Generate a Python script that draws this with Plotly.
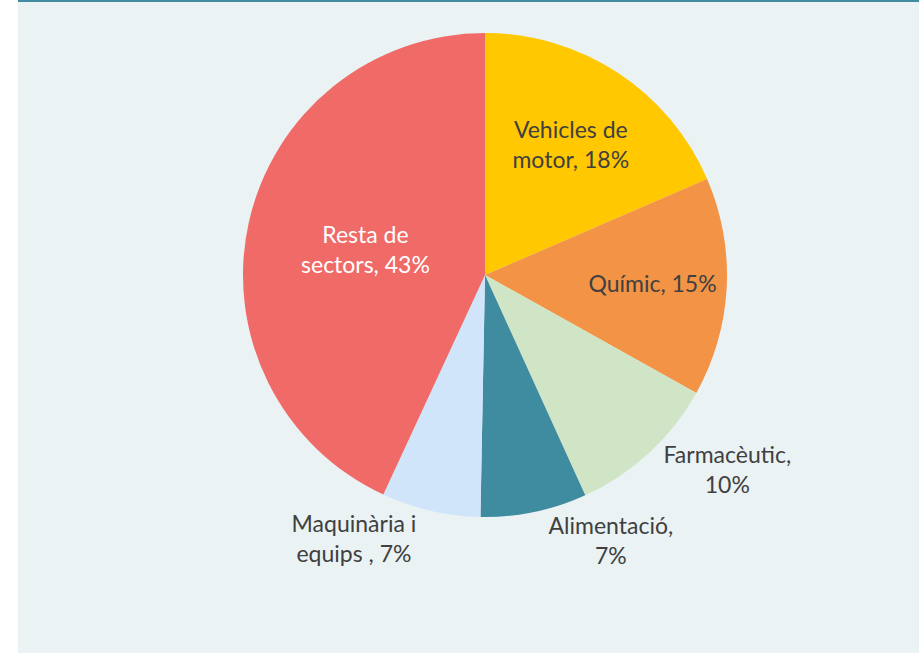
import plotly.graph_objects as go

labels = ["Vehicles de motor", "Químic", "Farmacèutic", "Alimentació", "Maquinària i equips ", "Resta de sectors"]
values = [18.5, 14.6, 10.1, 7.1, 6.6, 43.1]
text_labels = ["Vehicles de<br>motor, 18%", "Químic, 15%", "Farmacèutic,<br>10%",
               "Alimentació,<br>7%", "Maquinària i<br>equips , 7%", "Resta de<br>sectors, 43%"]
colors = ["#FFC800", "#F29345", "#CFE5C5", "#3F8BA0", "#D0E4FA", "#F06A68"]
text_pos = ["inside", "inside", "outside", "outside", "outside", "inside"]
text_colors = ["#404040", "#404040", "#404040", "#404040", "#404040", "#FFFFFF"]

W, H = 919, 653
cx, cy, r = 485, 275, 242
FONT = "Lato, Open Sans, sans-serif"

fig = go.Figure(go.Pie(
    labels=labels, values=values, text=text_labels,
    textinfo="text", texttemplate="%{text}",
    textposition=text_pos,
    insidetextorientation="horizontal",
    textfont=dict(family=FONT, size=23, color=text_colors),
    outsidetextfont=dict(family=FONT, size=23, color="#404040"),
    marker=dict(colors=colors, line=dict(width=0)),
    sort=False, direction="clockwise", rotation=0,
    showlegend=False, hoverinfo="label+percent",
    domain=dict(x=[(cx - r) / W, (cx + r) / W], y=[1 - (cy + r) / H, 1 - (cy - r) / H]),
))

fig.update_layout(
    width=W, height=H,
    margin=dict(l=0, r=0, t=0, b=0),
    paper_bgcolor="white",
    font=dict(family=FONT, color="#404040"),
    shapes=[
        dict(type="rect", xref="paper", yref="paper", x0=18 / W, x1=1, y0=0, y1=1,
             fillcolor="#EAF2F4", line=dict(width=0), layer="below"),
        dict(type="line", xref="paper", yref="paper", x0=18 / W, x1=1, y0=1 - 1 / H, y1=1 - 1 / H,
             line=dict(color="#3F8BA0", width=2), layer="above"),
    ],
)

fig.write_html("out.html", config={"displayModeBar": False},
               post_script="document.body.style.margin='0';document.body.style.overflow='hidden';")
